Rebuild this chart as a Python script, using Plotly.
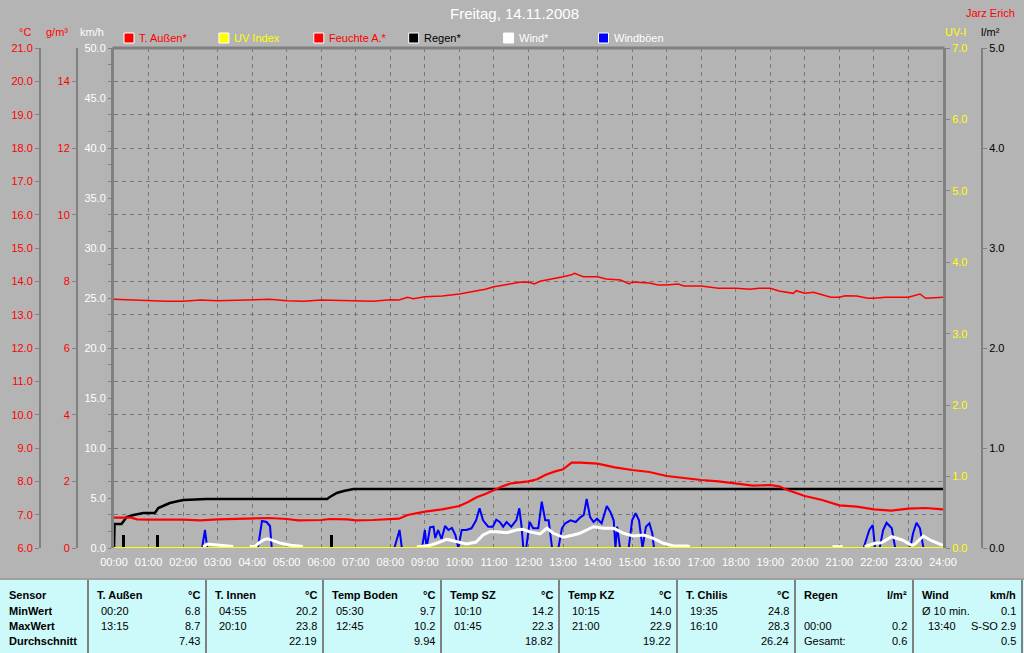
import plotly.graph_objects as go

# ---------------- data ----------------
hour_labels = ["00:00", "01:00", "02:00", "03:00", "04:00", "05:00", "06:00", "07:00",
               "08:00", "09:00", "10:00", "11:00", "12:00", "13:00", "14:00", "15:00",
               "16:00", "17:00", "18:00", "19:00", "20:00", "21:00", "22:00", "23:00", "24:00"]

# T. Außen (°C)
temp_time = ["00:00", "00:30", "00:40", "01:00", "02:00", "02:30", "03:00", "03:30", "04:00", "04:30",
             "05:00", "05:20", "06:00", "06:15", "06:45", "07:00", "07:30", "08:00", "08:15", "08:30",
             "09:00", "09:30", "10:00", "10:15", "10:30", "10:45", "11:00", "11:15", "11:30", "11:45",
             "12:00", "12:15", "12:30", "12:45", "13:00", "13:15", "13:30", "14:00", "14:15", "14:30",
             "15:00", "15:30", "16:00", "16:30", "17:00", "17:30", "18:00", "18:30", "19:00", "19:15",
             "19:30", "20:00", "20:30", "21:00", "21:30", "22:00", "22:30", "23:00", "23:30", "24:00"]
temp_val = [6.91, 6.91, 6.86, 6.85, 6.85, 6.83, 6.86, 6.87, 6.90, 6.90,
            6.87, 6.83, 6.84, 6.87, 6.86, 6.83, 6.84, 6.87, 6.88, 6.99,
            7.09, 7.16, 7.26, 7.38, 7.52, 7.62, 7.74, 7.85, 7.94, 7.97,
            8.00, 8.06, 8.20, 8.29, 8.36, 8.56, 8.56, 8.53, 8.47, 8.42,
            8.34, 8.28, 8.16, 8.09, 8.04, 8.00, 7.94, 7.87, 7.89, 7.85,
            7.74, 7.56, 7.44, 7.28, 7.24, 7.16, 7.12, 7.18, 7.20, 7.16]

# Feuchte A. (g/m³)
hum_time = ["00:00", "00:30", "01:00", "01:30", "02:00", "02:30", "03:00", "03:30", "04:00", "04:30",
            "05:00", "05:30", "06:00", "06:30", "07:00", "07:30", "08:00", "08:15", "08:30", "08:40",
            "09:00", "09:30", "10:00", "10:30", "10:45", "11:00", "11:30", "11:45", "12:00", "12:10",
            "12:20", "12:40", "13:00", "13:15", "13:20", "13:35", "14:00", "14:15", "14:40", "14:55",
            "15:00", "15:30", "15:45", "16:00", "16:20", "16:30", "17:00", "17:30", "18:00", "18:25",
            "18:40", "19:00", "19:15", "19:40", "19:45", "20:00", "20:15", "20:30", "20:45", "21:00",
            "21:10", "21:30", "21:50", "22:00", "22:20", "23:00", "23:20", "23:30", "24:00"]
hum_val = [7.46, 7.44, 7.40, 7.40, 7.40, 7.44, 7.42, 7.44, 7.46, 7.46,
           7.42, 7.40, 7.44, 7.42, 7.40, 7.40, 7.45, 7.44, 7.52, 7.48,
           7.54, 7.56, 7.62, 7.70, 7.76, 7.84, 7.92, 7.97, 7.98, 7.92,
           8.00, 8.06, 8.14, 8.20, 8.24, 8.14, 8.14, 8.07, 8.04, 7.92,
           7.98, 7.95, 7.89, 7.89, 7.92, 7.86, 7.86, 7.79, 7.79, 7.76,
           7.79, 7.79, 7.71, 7.64, 7.72, 7.64, 7.67, 7.60, 7.52, 7.52,
           7.57, 7.56, 7.49, 7.49, 7.52, 7.52, 7.62, 7.49, 7.52]

# Regen cumulative (l/m²)
rain_time = ["00:00", "00:01", "00:13", "00:19", "00:22", "00:34", "00:51", "01:11", "01:17", "01:29",
             "01:37", "01:52", "02:01", "02:41", "06:10", "06:15", "06:27", "06:39", "06:56", "24:00"]
rain_val = [0.0, 0.24, 0.24, 0.28, 0.31, 0.33, 0.35, 0.35, 0.40, 0.43,
            0.45, 0.47, 0.48, 0.49, 0.49, 0.51, 0.55, 0.57, 0.59, 0.59]

# Regen per interval (l/m²)
rain_bar_time = ["00:16", "01:15", "06:18"]
rain_bar_val = [0.13, 0.13, 0.13]

# UV Index
uv_time = hour_labels
uv_val = [0] * 25

# Wind (km/h) - None where nothing is drawn
wind_time = ["02:35", "02:42", "02:50", "03:00", "03:15", "03:27", "03:40",
             "03:56", "04:06", "04:12", "04:22", "04:27", "04:38", "04:50", "05:07", "05:19", "05:28", "06:00",
             "08:46", "09:00", "09:09", "09:26", "09:38", "09:49", "10:01", "10:12", "10:29", "10:41",
             "10:53", "11:04", "11:22", "11:39", "11:50", "12:02", "12:20", "12:32", "12:43", "13:01",
             "13:18", "13:29", "13:41", "13:53", "14:10", "14:28", "14:45", "15:02", "15:20", "15:37",
             "15:54", "16:11", "16:35", "16:40", "18:00",
             "20:48", "21:06", "21:20",
             "21:44", "22:02", "22:13", "22:31", "22:48", "23:06", "23:11", "23:26", "23:40", "24:00"]
wind_val = [0.1, 0.4, 0.35, 0.3, 0.2, 0.15, None,
            0.15, 0.2, 0.53, 0.87, 0.93, 0.73, 0.47, 0.27, 0.2, 0.15, None,
            0.1, 0.2, 0.27, 0.6, 0.87, 0.73, 0.53, 0.4, 0.6, 1.3,
            1.63, 1.63, 1.53, 1.8, 1.87, 1.63, 1.4, 1.97, 1.47, 1.07,
            1.3, 1.47, 1.8, 2.13, 1.97, 1.97, 1.47, 1.2, 1.3, 0.97,
            0.47, 0.23, 0.2, 0.15, None,
            0.13, 0.13, None,
            0.13, 0.47, 0.53, 1.13, 0.83, 0.27, 0.4, 1.2, 0.73, 0.27]

# Windböen (km/h)
gust_time = ["00:00", "02:33", "02:38", "02:42", "04:10", "04:17", "04:25", "04:31", "04:34", "08:07",
             "08:16", "08:20", "08:55", "09:00", "09:03", "09:09", "09:15", "09:18", "09:23", "09:29",
             "09:35", "09:41", "09:47", "09:53", "09:58", "10:04", "10:12", "10:21", "10:29", "10:35",
             "10:41", "10:50", "10:58", "11:04", "11:10", "11:16", "11:22", "11:30", "11:39", "11:44",
             "11:48", "11:51", "11:56", "12:02", "12:08", "12:17", "12:23", "12:29", "12:35", "12:41",
             "12:52", "12:58", "13:04", "13:13", "13:22", "13:30", "13:36", "13:41", "13:47", "13:53",
             "13:59", "14:07", "14:16", "14:22", "14:28", "14:31", "14:34", "14:39", "14:54", "15:00",
             "15:06", "15:12", "15:18", "15:24", "15:30", "15:35", "15:38", "21:42", "21:52", "21:58",
             "22:02", "22:10", "22:16", "22:22", "22:31", "22:37", "23:03", "23:08", "23:14", "23:20",
             "23:26", "24:00"]
gust_val = [0, 0, 1.8, 0, 0, 2.7, 2.6, 2.2, 0, 0,
            1.8, 0, 0, 1.8, 0, 2.07, 2.13, 1.0, 1.8, 0.9,
            2.2, 1.8, 2.0, 1.3, 0, 1.8, 1.8, 1.97, 2.77, 3.97,
            2.77, 2.13, 2.13, 2.83, 2.6, 2.13, 2.6, 2.13, 2.8, 3.97,
            2.13, 0, 0, 2.6, 1.97, 1.97, 4.63, 2.77, 2.77, 0,
            0, 1.97, 2.47, 2.77, 2.6, 3.07, 3.3, 4.9, 3.1, 2.6,
            2.93, 2.47, 4.2, 3.63, 2.77, 0, 2.13, 0, 0, 2.77,
            3.47, 2.77, 0, 2.13, 2.47, 1.47, 0, 0, 1.8, 2.3,
            0, 0, 1.8, 2.53, 1.97, 0, 0, 1.47, 2.53, 1.97,
            0, 0]

# table
table_sensors = ["T. Außen", "T. Innen", "Temp Boden", "Temp SZ", "Temp KZ", "T. Chilis", "Regen", "Wind"]
table_units = ["°C", "°C", "°C", "°C", "°C", "°C", "l/m²", "km/h"]
table_min_time = ["00:20", "04:55", "05:30", "10:10", "10:15", "19:35", "", "Ø 10 min."]
table_min_val = ["6.8", "20.2", "9.7", "14.2", "14.0", "24.8", "", "0.1"]
table_max_time = ["13:15", "20:10", "12:45", "01:45", "21:00", "16:10", "00:00", "13:40"]
table_max_val = ["8.7", "23.8", "10.2", "22.3", "22.9", "28.3", "0.2", "S-SO 2.9"]
table_avg_label = ["", "", "", "", "", "", "Gesamt:", ""]
table_avg_val = ["7.43", "22.19", "9.94", "18.82", "19.22", "26.24", "0.6", "0.5"]
row_labels = ["Sensor", "MinWert", "MaxWert", "Durchschnitt"]

legend_names = ["T. Außen*", "UV Index", "Feuchte A.*", "Regen*", "Wind*", "Windböen"]
legend_colors = ["#FF0000", "#FFFF00", "#FF0000", "#000000", "#FFFFFF", "#0000FF"]
legend_text_colors = ["#FF0000", "#FFFF00", "#FF0000", "#000000", "#FFFFFF", "#FFFFFF"]

title_text = "Freitag, 14.11.2008"
author_text = "Jarz Erich"


def hours(lst):
    out = []
    for s in lst:
        h, m = s.split(":")
        out.append(int(h) + int(m) / 60.0)
    return out


# ---------------- figure ----------------
W, H = 1024, 653
BG = "#B4B4B4"
AXC = "#808080"
GRID = "#787878"
FONT = "Arial"


def PX(px):
    return px / W


def PY(py):
    return (548 - py) / 500.0


fig = go.Figure()

fig.add_trace(go.Scatter(x=hours(gust_time), y=gust_val, yaxis="y", mode="lines",
                         line=dict(color="#0000FF", width=2), hoverinfo="skip"))
fig.add_trace(go.Scatter(x=hours(wind_time), y=wind_val, yaxis="y", mode="lines",
                         line=dict(color="#FFFFFF", width=3), connectgaps=False, hoverinfo="skip"))
fig.add_trace(go.Scatter(x=hours(rain_time), y=rain_val, yaxis="y2", mode="lines",
                         line=dict(color="#000000", width=2.5), hoverinfo="skip"))
fig.add_trace(go.Bar(x=hours(rain_bar_time), y=rain_bar_val, yaxis="y2", width=0.085,
                     marker=dict(color="#000000", line=dict(width=0)), hoverinfo="skip"))
fig.add_trace(go.Scatter(x=hours(hum_time), y=hum_val, yaxis="y3", mode="lines",
                         line=dict(color="#FF0000", width=1.5), hoverinfo="skip"))
fig.add_trace(go.Scatter(x=hours(temp_time), y=temp_val, yaxis="y4", mode="lines",
                         line=dict(color="#FF0000", width=2.2), hoverinfo="skip"))
fig.add_trace(go.Scatter(x=hours(uv_time), y=uv_val, yaxis="y5", mode="lines",
                         line=dict(color="#FFFF00", width=2), hoverinfo="skip"))

common_y = dict(zeroline=False, showgrid=False, fixedrange=True, automargin=False)

fig.update_layout(
    width=W, height=H,
    margin=dict(l=0, r=0, t=48, b=105, autoexpand=False),
    paper_bgcolor=BG, plot_bgcolor=BG,
    showlegend=False,
    font=dict(family=FONT, size=11),
    xaxis=dict(domain=[PX(114), PX(943)], range=[0, 24],
               tickvals=list(range(25)), ticktext=hour_labels,
               tickfont=dict(color="white", size=11),
               ticks="outside", ticklen=4, tickcolor=BG,
               showgrid=True, gridcolor=GRID, griddash="4px,4px", gridwidth=1,
               zeroline=False, showline=False, fixedrange=True, automargin=False),
    yaxis=dict(range=[0, 50], dtick=5, tickformat=".1f", side="left", anchor="x",
               tickfont=dict(color="white", size=11),
               showline=True, linecolor=AXC, linewidth=3,
               ticks="outside", ticklen=3, tickcolor=AXC,
               minor=dict(dtick=5 / 3, ticks="outside", ticklen=3, tickcolor=AXC),
               **common_y),
    yaxis2=dict(range=[0, 5], dtick=1, tickformat=".1f", side="right", anchor="free",
                overlaying="y", position=PX(982),
                tickfont=dict(color="black", size=11),
                showline=True, linecolor=AXC, linewidth=2,
                ticks="outside", ticklen=4, tickcolor=AXC, **common_y),
    yaxis3=dict(range=[0, 15], tickvals=[0, 2, 4, 6, 8, 10, 12, 14], tickformat="d", side="left",
                anchor="free", overlaying="y", position=PX(77),
                tickfont=dict(color="#FF0000", size=11),
                showline=True, linecolor=AXC, linewidth=2,
                ticks="outside", ticklen=4, tickcolor=AXC, **common_y),
    yaxis4=dict(range=[6, 21], dtick=1, tickformat=".1f", side="left",
                anchor="free", overlaying="y", position=PX(40),
                tickfont=dict(color="#FF0000", size=11),
                showline=True, linecolor=AXC, linewidth=2,
                ticks="outside", ticklen=4, tickcolor=AXC,
                zeroline=False, fixedrange=True, automargin=False,
                showgrid=True, gridcolor=GRID, griddash="4px,4px", gridwidth=1),
    yaxis5=dict(range=[0, 7], dtick=1, tickformat=".1f", side="right", anchor="x",
                overlaying="y",
                tickfont=dict(color="#FFFF00", size=11),
                showline=True, linecolor=AXC, linewidth=3,
                ticks="outside", ticklen=4, tickcolor=AXC, **common_y),
    bargap=0,
)

shapes = []
annotations = []


def ann(px, py, text, color, size=11, xanchor="left"):
    annotations.append(dict(x=PX(px), y=PY(py), xref="paper", yref="paper", text=text,
                            showarrow=False, xanchor=xanchor, yanchor="middle",
                            font=dict(color=color, size=size, family=FONT), borderpad=0))


# top frame line
shapes.append(dict(type="line", xref="paper", yref="paper", x0=PX(112.5), x1=PX(944.5),
                   y0=PY(48), y1=PY(48), line=dict(color=AXC, width=3), layer="above"))

# title and author
ann(514, 14, title_text, "white", size=15, xanchor="center")
ann(1016, 13, author_text, "#FF0000", size=11, xanchor="right")

# axis titles
ann(25, 32, "°C", "#FF0000", xanchor="center")
ann(57, 32, "g/m³", "#FF0000", xanchor="center")
ann(92, 32, "km/h", "white", xanchor="center")
ann(955, 32, "UV-I", "#FFFF00", xanchor="center")
ann(990, 32, "l/m²", "black", xanchor="center")

# legend
for i, (name, col, tcol) in enumerate(zip(legend_names, legend_colors, legend_text_colors)):
    x0 = 124 + i * 94.9
    shapes.append(dict(type="rect", xref="paper", yref="paper",
                       x0=PX(x0), x1=PX(x0 + 10), y0=PY(43), y1=PY(33),
                       fillcolor=col, line=dict(color="white", width=1)))
    ann(x0 + 14, 38, name, tcol)

# table
TBG = "#CCF9F9"
shapes.append(dict(type="rect", xref="paper", yref="paper", x0=PX(0), x1=PX(1024),
                   y0=PY(653), y1=PY(579), fillcolor=TBG, line=dict(width=0), layer="below"))
shapes.append(dict(type="line", xref="paper", yref="paper", x0=PX(0), x1=PX(1024),
                   y0=PY(579), y1=PY(579), line=dict(color="#A0A0A0", width=2)))
seps = [88, 206, 323, 441, 559, 677, 795, 913, 1022]
for sx in seps:
    shapes.append(dict(type="line", xref="paper", yref="paper", x0=PX(sx), x1=PX(sx),
                       y0=PY(580), y1=PY(653), line=dict(color=AXC, width=2)))

rows_y = [595, 611, 626, 641]
for lab, ry in zip(row_labels, rows_y):
    ann(8, ry, "<b>" + lab + "</b>", "black")

for i in range(8):
    left = seps[i]
    right = seps[i + 1]
    toff = 8 if i >= 6 else 12
    ann(left + 8, rows_y[0], "<b>" + table_sensors[i] + "</b>", "black")
    ann(right - 5, rows_y[0], "<b>" + table_units[i] + "</b>", "black", xanchor="right")
    if table_min_time[i]:
        ann(left + toff, rows_y[1], table_min_time[i], "black")
    if table_min_val[i]:
        ann(right - 5, rows_y[1], table_min_val[i], "black", xanchor="right")
    ann(left + (14 if i == 7 else toff), rows_y[2], table_max_time[i], "black")
    ann(right - 5, rows_y[2], table_max_val[i], "black", xanchor="right")
    if table_avg_label[i]:
        ann(left + toff, rows_y[3], table_avg_label[i], "black")
    ann(right - 5, rows_y[3], table_avg_val[i], "black", xanchor="right")

fig.update_layout(shapes=shapes, annotations=annotations)

fig.write_html("out.html",
               config={"displayModeBar": False, "staticPlot": True},
               post_script="document.body.style.margin='0';document.body.style.overflow='hidden';")
